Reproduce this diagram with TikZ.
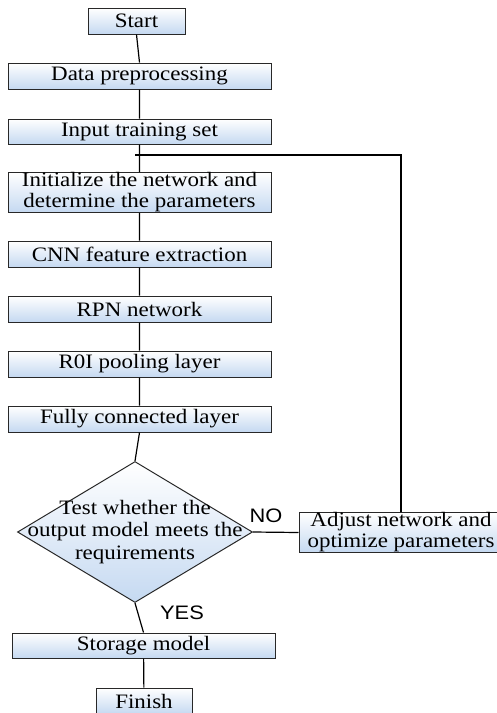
\documentclass[tikz,border=0pt]{standalone}
\usepackage{fontspec}
\setmainfont{Liberation Serif}[FakeStretch=1.12]
\newfontfamily\tagfont{Liberation Sans}[FakeStretch=1.12]
\usetikzlibrary{shapes.geometric}
\definecolor{boxblue}{RGB}{197,217,241}
\definecolor{boxline}{RGB}{40,40,40}

\begin{document}
\begin{tikzpicture}[x=1pt, y=-1pt,
    stepbox/.style={draw=boxline, line width=1pt, top color=white, bottom color=boxblue,
        minimum width=263pt, minimum height=26pt, inner sep=0pt, align=center,
        font=\fontsize{20.5}{21}\selectfont},
    decision/.style={diamond, draw=boxline, line width=1pt, top color=white, bottom color=boxblue,
        minimum width=235pt, minimum height=141pt, inner sep=0pt},
    tag/.style={font=\tagfont\fontsize{19.5}{22}\selectfont, inner sep=0pt}]
        \useasboundingbox (0, 0) rectangle (497, 713);

        \node[stepbox, minimum width=97pt] (start) at (136.5, 21) {Start};
        \node[stepbox] (prep) at (139.5, 76) {Data preprocessing};
        \node[stepbox, minimum height=25pt] (input) at (139.5, 131.5) {Input training set};
        \node[stepbox, minimum height=37pt] (init) at (139.5, 192.5) {Initialize the network and\\determine the parameters};
        \node[stepbox] (cnn) at (139.5, 254) {CNN feature extraction};
        \node[stepbox] (rpn) at (139.5, 309) {RPN network};
        \node[stepbox] (roi) at (139.5, 364) {R0I pooling layer};
        \node[stepbox] (fc) at (139.5, 419) {Fully connected layer};
        \node[decision] (test) at (135, 532) {};
        \node[align=center, inner sep=0pt, font=\fontsize{20.5}{22.5}\selectfont] (testtext) at (test.center) {Test whether the\\output model meets the\\requirements};
        \node[stepbox, minimum width=204pt, minimum height=37pt] (adjust) at (401, 532.5) {Adjust network and\\optimize parameters};
        \node[stepbox, minimum height=25pt] (store) at (143.5, 645.5) {Storage model};
        \node[stepbox, minimum width=96pt] (finish) at (144, 701) {Finish};
        \coordinate (loop) at (135, 155);

        \node[tag] (no) at (266, 516) {NO};
        \node[tag] (yes) at (182, 613) {YES};

        \draw[line width=1.2pt] (start.south) to (prep.north)
            (prep) to (input)
            (input) to (init)
            (init) to (cnn)
            (cnn) to (rpn)
            (rpn) to (roi)
            (roi) to (fc)
            (fc.south) to (test.north)
            (test.south) to (store.north)
            (store) to (finish)
            (test.east) to (adjust.west);
        \draw[line width=1.2pt] (adjust.north) |- (loop);
    \end{tikzpicture}
\end{document}
